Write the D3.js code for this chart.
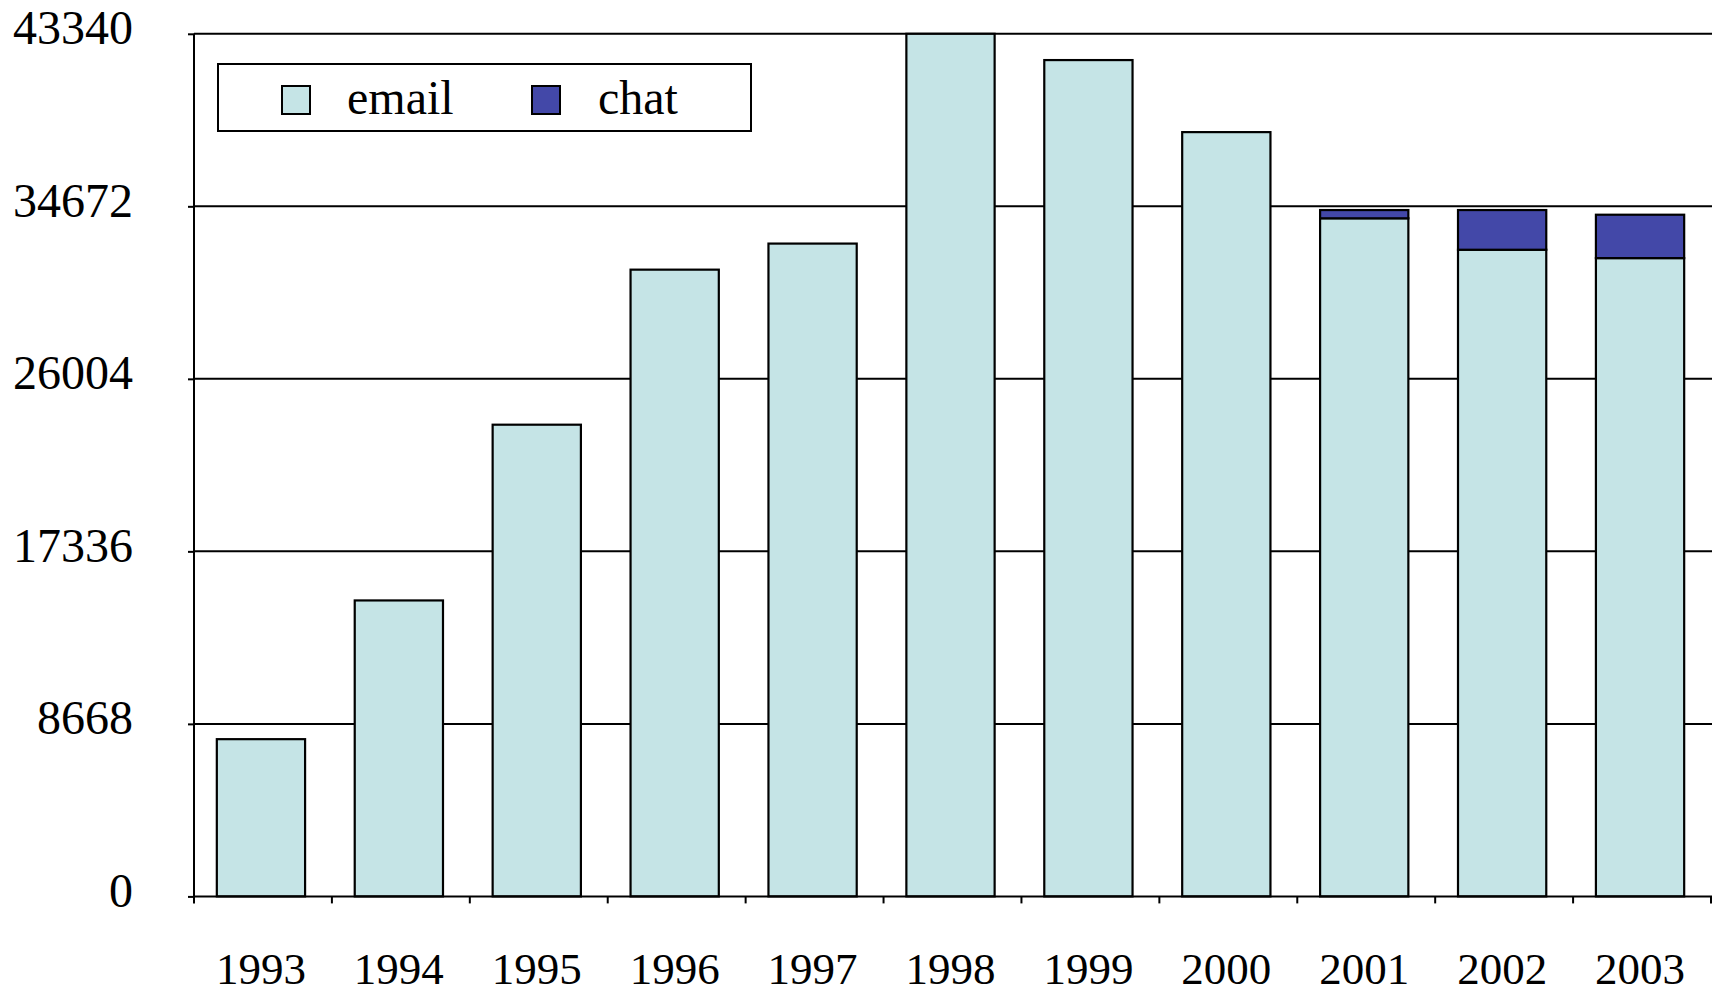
<!DOCTYPE html>
<html>
<head>
<meta charset="utf-8">
<script src="https://cdn.jsdelivr.net/npm/d3@7/dist/d3.min.js"></script>
<style>
  html, body { margin: 0; padding: 0; background: #fff; }
  svg { display: block; }
  text { font-family: "Liberation Serif", "Times New Roman", serif; fill: #000; }
</style>
</head>
<body>
<svg id="chart" width="1712" height="994"></svg>
<script>
const years = ["1993","1994","1995","1996","1997","1998","1999","2000","2001","2002","2003"];
const emailValues = [7900, 14870, 23700, 31490, 32800, 43340, 42020, 38400, 34070, 32490, 32070];
const chatValues  = [0, 0, 0, 0, 0, 0, 0, 0, 415, 1995, 2180];
const yTicks = [0, 8668, 17336, 26004, 34672, 43340];
const seriesNames = ["email", "chat"];
const seriesColors = ["#C5E4E6", "#4348A8"];

(function () {
const W = 1712, H = 994;
const pLeft = 194, pRight = 1711, pTop = 33.8, pBottom = 896.4;
const svg = d3.select("#chart");

const x = d3.scaleBand().domain(years).range([pLeft, pRight]).paddingInner(0.36).paddingOuter(0.18);
const y = d3.scaleLinear().domain([0, 43340]).range([pBottom, pTop]);

// gridlines
svg.append("g").selectAll("line").data(yTicks.filter(d => d > 0)).join("line")
  .attr("x1", pLeft).attr("x2", W).attr("y1", d => y(d)).attr("y2", d => y(d))
  .attr("stroke", "#000").attr("stroke-width", 2);

// stacked bars
const table = years.map((yr, i) => ({ year: yr, email: emailValues[i], chat: chatValues[i] }));
const stack = d3.stack().keys(seriesNames)(table);
const color = d3.scaleOrdinal().domain(seriesNames).range(seriesColors);

svg.append("g").attr("transform", "translate(-2,0)").selectAll("g").data(stack).join("g")
  .attr("fill", d => color(d.key))
  .selectAll("rect").data(d => d.filter(p => p[1] - p[0] > 0)).join("rect")
  .attr("x", d => x(d.data.year))
  .attr("width", x.bandwidth())
  .attr("y", d => y(d[1]))
  .attr("height", d => y(d[0]) - y(d[1]))
  .attr("stroke", "#000").attr("stroke-width", 2.2);

// y axis
const yAxis = d3.axisLeft(y).tickValues(yTicks).tickSize(6).tickFormat(d3.format("d"));
const gy = svg.append("g").attr("transform", `translate(${pLeft},0)`).call(yAxis);
gy.select(".domain").attr("stroke", "#000").attr("stroke-width", 2).attr("d", `M0,${pBottom + 6}V${pTop}`);
gy.selectAll(".tick line").attr("stroke", "#000").attr("stroke-width", 2);
gy.selectAll(".tick text")
  .attr("x", -61).attr("dy", null).attr("y", 10)
  .style("font-family", '"Liberation Serif", "Times New Roman", serif')
  .style("font-size", "48px").attr("fill", "#000");

// x axis
const gx = svg.append("g").attr("transform", `translate(0,${pBottom})`);
gx.append("line").attr("x1", pLeft).attr("x2", W).attr("y1", 0).attr("y2", 0)
  .attr("stroke", "#000").attr("stroke-width", 2);
const boundaries = d3.range(years.length + 1).map(i => pLeft + i * x.step());
gx.selectAll("line.tk").data(boundaries).join("line").attr("class", "tk")
  .attr("x1", d => d).attr("x2", d => d).attr("y1", 0).attr("y2", 7)
  .attr("stroke", "#000").attr("stroke-width", 2);
gx.selectAll("text").data(years).join("text")
  .attr("x", d => x(d) + x.bandwidth() / 2 - 2)
  .attr("y", 984 - pBottom)
  .attr("text-anchor", "middle")
  .style("font-size", "45px")
  .text(d => d);

// legend
const lg = svg.append("g");
lg.append("rect").attr("x", 218).attr("y", 64).attr("width", 533).attr("height", 67)
  .attr("fill", "#fff").attr("stroke", "#000").attr("stroke-width", 2);
const legendX = [282, 532];
const textX = [347, 598];
seriesNames.forEach((name, i) => {
  lg.append("rect").attr("x", legendX[i]).attr("y", 86).attr("width", 28).attr("height", 28)
    .attr("fill", seriesColors[i]).attr("stroke", "#000").attr("stroke-width", 2);
  lg.append("text").attr("x", textX[i]).attr("y", 114).style("font-size", "48px").text(name);
});
})();
</script>
</body>
</html>
